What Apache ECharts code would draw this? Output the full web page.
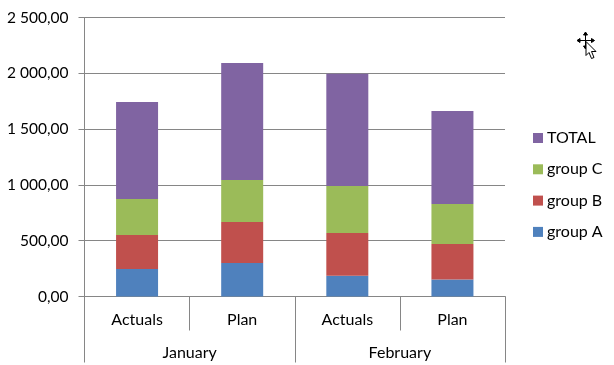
<!DOCTYPE html>
<html>
<head>
<meta charset="utf-8">
<style>html,body{margin:0;padding:0;background:#fff}#c{width:614px;height:365px}</style>
<script src="https://cdn.jsdelivr.net/npm/echarts@6/dist/echarts.min.js"></script>
</head>
<body>
<div id="c"></div>
<script>
const categories = ['Actuals', 'Plan', 'Actuals', 'Plan'];
const months = ['January', 'February'];
const groupA = [246, 300, 185, 152];
const groupB = [305, 368, 385, 319];
const groupC = [323, 376, 421, 358];
const total = [869, 1048, 1004, 834];
const yMax = 2500;
const yStep = 500;

const FONT = 'Lato';
const AXIS = '#868686';
const TEXT = '#000';
const fmt = v => {
  const s = String(Math.floor(v));
  return s.replace(/\B(?=(\d{3})+$)/g, ' ') + ',00';
};
const bar = (name, data, color) => ({
  name, type: 'bar', stack: 'a', data, barWidth: 42, xAxisIndex: 0,
  itemStyle: { color }, emphasis: { disabled: true }
});
const cursorLine = shape => ({
  type: 'line', shape, silent: true, z: 100,
  style: { stroke: '#000', lineWidth: 1 }
});
const cursorFill = (points, fill) => ({
  type: 'polygon', shape: { points }, silent: true, z: 101,
  style: { fill, stroke: '#000', lineWidth: 1 }
});
const chart = echarts.init(document.getElementById('c'), null, { renderer: 'canvas' });
chart.setOption({
  animation: false,
  backgroundColor: '#fff',
  textStyle: { fontFamily: FONT },
  grid: { left: 84.5, right: 109, top: 17.5, bottom: 68.5, containLabel: false },
  legend: {
    orient: 'vertical', left: 533, top: 130, padding: 0,
    data: ['TOTAL', 'group C', 'group B', 'group A'],
    icon: 'rect', itemWidth: 10, itemHeight: 10, itemGap: 15.3,
    textStyle: { fontFamily: FONT, fontSize: 16, color: TEXT, padding: [0, 0, 0, -1] },
    selectedMode: false
  },
  xAxis: [
    {
      type: 'category', data: categories, position: 'bottom',
      axisLine: { show: true, onZero: false, lineStyle: { color: AXIS, width: 1 } },
      axisTick: { show: true, length: 34, alignWithLabel: false, lineStyle: { color: AXIS, width: 1 } },
      axisLabel: { color: TEXT, fontSize: 16, fontFamily: FONT, margin: 15, interval: 0 },
      splitLine: { show: false }
    },
    {
      type: 'category', data: months, position: 'bottom',
      axisLine: { show: false },
      axisTick: { show: true, length: 66, lineStyle: { color: AXIS, width: 1 } },
      axisLabel: { color: TEXT, fontSize: 16, fontFamily: FONT, margin: 48, interval: 0 },
      splitLine: { show: false }
    }
  ],
  yAxis: {
    type: 'value', min: 0, max: yMax, interval: yStep,
    axisLine: { show: true, lineStyle: { color: AXIS, width: 1 } },
    axisTick: { show: true, length: 6, lineStyle: { color: AXIS, width: 1 } },
    axisLabel: { color: TEXT, fontSize: 15.5, fontFamily: FONT, margin: 16, formatter: fmt },
    splitLine: { show: true, lineStyle: { color: AXIS, width: 1 } }
  },
  graphic: [
    cursorLine({ x1: 585.5, y1: 34, x2: 585.5, y2: 47 }),
    cursorLine({ x1: 579, y1: 40.5, x2: 593, y2: 40.5 }),
    cursorFill([[585.5, 32], [583.5, 35], [587.5, 35]], '#000'),
    cursorFill([[585.5, 49], [583.5, 46], [587.5, 46]], '#000'),
    cursorFill([[577, 40.5], [580, 38.5], [580, 42.5]], '#000'),
    cursorFill([[594.5, 40.5], [591.5, 38.5], [591.5, 42.5]], '#000'),
    cursorFill([[586, 41.5], [586, 55.5], [589, 52.5], [591.5, 58.5], [594, 57.5], [591.5, 51.5], [596, 51.5]], '#fff')
  ],
  series: [
    bar('group A', groupA, '#4F81BD'),
    bar('group B', groupB, '#C0504D'),
    bar('group C', groupC, '#9BBB59'),
    bar('TOTAL', total, '#8064A2')
  ]
});
</script>
</body>
</html>
